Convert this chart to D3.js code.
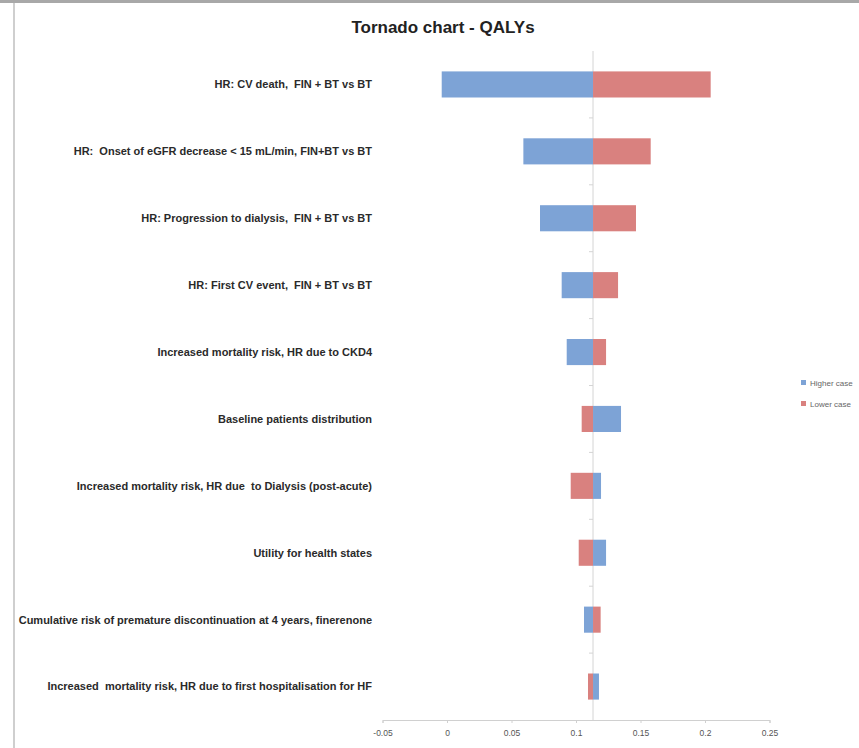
<!DOCTYPE html>
<html>
<head>
<meta charset="utf-8">
<script src="https://cdn.jsdelivr.net/npm/d3@7"></script>
<style>
  html, body { margin: 0; padding: 0; background: #ffffff; }
  svg { display: block; }
</style>
</head>
<body>
<script>
const categories = [
  "HR: CV death,  FIN + BT vs BT",
  "HR:  Onset of eGFR decrease < 15 mL/min, FIN+BT vs BT",
  "HR: Progression to dialysis,  FIN + BT vs BT",
  "HR: First CV event,  FIN + BT vs BT",
  "Increased mortality risk, HR due to CKD4",
  "Baseline patients distribution",
  "Increased mortality risk, HR due  to Dialysis (post-acute)",
  "Utility for health states",
  "Cumulative risk of premature discontinuation at 4 years, finerenone",
  "Increased  mortality risk, HR due to first hospitalisation for HF"
];
const higherCase = [-0.0041, 0.0592, 0.0721, 0.0889, 0.0928, 0.1349, 0.1194, 0.1233, 0.1062, 0.1178];
const lowerCase  = [0.2044, 0.1579, 0.1465, 0.1326, 0.1233, 0.1044, 0.0959, 0.1021, 0.1191, 0.1093];
const baseValue = 0.1132;
const xTicks = [-0.05, 0, 0.05, 0.1, 0.15, 0.2, 0.25];
const seriesNames = ["Higher case", "Lower case"];
const colors = ["#7da3d6", "#d9817f"];

const W = 859, H = 748;
const svg = d3.select("body").append("svg").attr("width", W).attr("height", H);
svg.append("rect").attr("width", W).attr("height", H).attr("fill", "#fff");

// frame
svg.append("line").attr("x1", 0).attr("x2", W).attr("y1", 1.5).attr("y2", 1.5)
  .attr("stroke", "#a8a8a8").attr("stroke-width", 3);
svg.append("line").attr("x1", 14).attr("x2", 14).attr("y1", 3).attr("y2", H)
  .attr("stroke", "#cfcfcf").attr("stroke-width", 2);

const fontNarrow = "'Liberation Sans Narrow', 'Arial Narrow', 'Liberation Sans', sans-serif";

// title
svg.append("text").attr("x", 443).attr("y", 33).attr("text-anchor", "middle")
  .attr("font-family", fontNarrow).attr("font-weight", "bold").attr("font-size", 17)
  .attr("fill", "#222").text("Tornado chart - QALYs");

const x = d3.scaleLinear().domain([-0.05, 0.25]).range([382.5, 769.5]);
const y = d3.scaleBand().domain(categories).range([51, 720]).paddingInner(0.61).paddingOuter(0.305);

// vertical axis at base
const gV = svg.append("g").attr("transform", `translate(${x(baseValue)},0)`);
gV.append("line").attr("y1", 51).attr("y2", 720).attr("stroke", "#d4d4d4").attr("stroke-width", 1);
const step = y.step();
d3.range(1, categories.length).forEach(i => {
  gV.append("line").attr("x1", -4).attr("x2", 0)
    .attr("y1", 51 + i * step).attr("y2", 51 + i * step)
    .attr("stroke", "#d4d4d4");
});

// bars
const rows = categories.map((c, i) => ({ c, hi: higherCase[i], lo: lowerCase[i] }));
const g = svg.append("g");
rows.forEach(r => {
  [[r.hi, colors[0]], [r.lo, colors[1]]].forEach(([v, col]) => {
    g.append("rect")
      .attr("x", x(Math.min(v, baseValue)))
      .attr("width", Math.abs(x(v) - x(baseValue)))
      .attr("y", y(r.c)).attr("height", y.bandwidth())
      .attr("fill", col);
  });
});

// category labels
svg.append("g").selectAll("text").data(categories).join("text")
  .attr("x", 372).attr("y", d => y(d) + y.bandwidth() / 2)
  .attr("dy", "0.35em").attr("text-anchor", "end")
  .attr("font-family", fontNarrow).attr("font-weight", "bold").attr("font-size", 11)
  .attr("fill", "#2a2a2a").style("white-space", "pre")
  .attr("xml:space", "preserve")
  .text(d => d);

// x axis
const xAxis = d3.axisBottom(x).tickValues(xTicks).tickSize(3).tickPadding(7)
  .tickFormat(d => d === 0 ? "0" : String(d));
const gx = svg.append("g").attr("transform", "translate(0,720)").call(xAxis);
gx.select(".domain").attr("stroke", "#d0d0d0");
gx.selectAll(".tick line").attr("stroke", "#d0d0d0");
gx.selectAll(".tick text").attr("font-family", fontNarrow).attr("font-size", 8.5).attr("fill", "#555");

// legend
const lg = svg.append("g").attr("transform", "translate(801,380)");
seriesNames.forEach((n, i) => {
  lg.append("rect").attr("x", 0).attr("y", i * 21).attr("width", 5).attr("height", 5).attr("fill", colors[i]);
  lg.append("text").attr("x", 9).attr("y", i * 21 + 5.5).attr("font-family", fontNarrow)
    .attr("font-size", 8).attr("fill", "#666").text(n);
});
</script>
</body>
</html>
